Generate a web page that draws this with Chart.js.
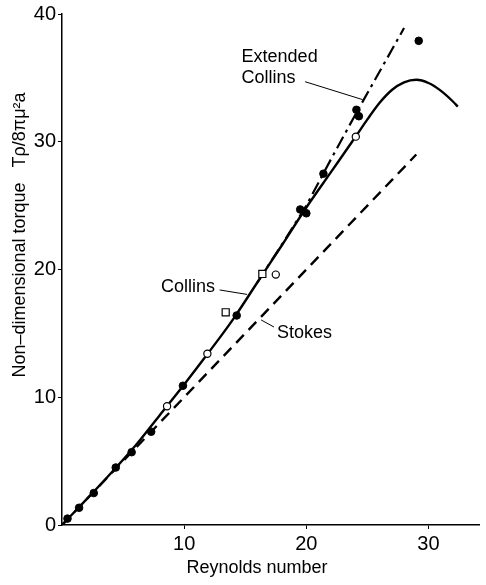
<!DOCTYPE html>
<html>
<head>
<meta charset="utf-8">
<script src="https://cdn.jsdelivr.net/npm/chart.js@4.4.1/dist/chart.umd.min.js"></script>
<style>
    html, body { margin: 0; padding: 0; background: #fff; }
    #wrap { width: 486px; height: 585px; }
</style>
</head>
<body>
<div id="wrap"><canvas id="grafico" width="486" height="585"></canvas></div>
<script>
// fonte tipo Helvetica
const FONTE = '"Liberation Sans", Arial, sans-serif';
const TAM = 18;
const TAM_TICKS = 20;

// ---- dados ----
const collinsRe = [0, 2, 4, 6, 8, 10, 12, 14, 16, 18, 20, 22, 24, 25, 26, 27, 28, 29, 30, 31, 32, 32.4];
const collinsT  = [0, 2.0, 4.05, 6.2, 8.6, 11.0, 13.5, 16.1, 19.0, 21.9, 24.85, 27.6, 30.35, 31.75, 33.05, 34.05, 34.65, 34.85, 34.6, 34.0, 33.15, 32.75];

const extRe = [16, 18, 20, 22, 24, 26, 28];
const extT  = [19.0, 21.95, 25.0, 28.6, 32.1, 35.5, 38.9];

const stokesRe = [0, 29];
const stokesT  = [0, 29];

const cheiosRe = [0.45, 1.4, 2.6, 4.4, 5.7, 7.3, 9.9, 14.3, 19.5, 20.0, 21.4, 24.1, 24.3, 29.2];
const cheiosT  = [0.5, 1.35, 2.5, 4.5, 5.7, 7.3, 10.9, 16.4, 24.7, 24.4, 27.5, 32.5, 32.0, 37.9];

const abertosRe = [8.6, 11.9, 17.5, 24.05];
const abertosT  = [9.3, 13.4, 19.6, 30.4];

const quadradosRe = [13.4, 16.4];
const quadradosT  = [16.65, 19.65];

const ticksY = [0, 10, 20, 30, 40];
const ticksX = [10, 20, 30];

function pares(xs, ys) {
    return xs.map((x, i) => ({ x: x, y: ys[i] }));
}

// rótulos das curvas: texto e ponta da linha guia, em unidades dos eixos
const rotulos = [
    { linhas: ['Extended', 'Collins'], texto: [14.7, 36.65], guia: [19.9, 34.7, 24.6, 33.3] },
    { linhas: ['Collins'], texto: [8.1, 18.6], guia: [12.9, 18.4, 15.15, 18.05] },
    { linhas: ['Stokes'], texto: [17.6, 15.0], guia: [17.35, 15.5, 16.3, 16.05] }
];

const pluginRotulos = {
    id: 'rotulos',
    afterDatasetsDraw(chart) {
        const ctx = chart.ctx;
        const sx = chart.scales.x, sy = chart.scales.y;
        ctx.save();
        ctx.fillStyle = '#000';
        ctx.strokeStyle = '#000';
        ctx.font = TAM + 'px ' + FONTE;
        ctx.textBaseline = 'middle';
        ctx.textAlign = 'left';
        rotulos.forEach(r => {
            const px = sx.getPixelForValue(r.texto[0]);
            const py = sy.getPixelForValue(r.texto[1]);
            r.linhas.forEach((t, i) => ctx.fillText(t, px, py + i * 21));
            ctx.lineWidth = 1;
            ctx.beginPath();
            ctx.moveTo(sx.getPixelForValue(r.guia[0]), sy.getPixelForValue(r.guia[1]));
            ctx.lineTo(sx.getPixelForValue(r.guia[2]), sy.getPixelForValue(r.guia[3]));
            ctx.stroke();
        });

        // títulos dos eixos
        ctx.textAlign = 'center';
        ctx.fillText('Reynolds number', 257, 568);
        ctx.translate(20, 235);
        ctx.rotate(-Math.PI / 2);
        ctx.fillText('Non\u2013dimensional torque   T\u03C1/8\u03C0\u03BC\u00B2a', 0, 0);
        ctx.restore();
    }
};

const ctx = document.getElementById('grafico');
new Chart(ctx, {
    type: 'scatter',
    data: {
        datasets: [
            { data: pares(cheiosRe, cheiosT), pointStyle: 'circle', pointRadius: 3.8, backgroundColor: '#000', borderColor: '#000', borderWidth: 1, order: 0 },
            { data: pares(abertosRe, abertosT), pointStyle: 'circle', pointRadius: 3.6, backgroundColor: '#fff', borderColor: '#000', borderWidth: 1.2, order: 0 },
            { data: pares(quadradosRe, quadradosT), pointStyle: 'rect', pointRadius: 5, backgroundColor: '#fff', borderColor: '#000', borderWidth: 1.2, order: 0 },
            { data: pares(collinsRe, collinsT), showLine: true, pointRadius: 0, borderColor: '#000', borderWidth: 2.4, cubicInterpolationMode: 'monotone', order: 1 },
            { data: pares(extRe, extT), showLine: true, pointRadius: 0, borderColor: '#000', borderWidth: 2.2, borderDash: [13, 5, 3, 5], order: 1 },
            { data: pares(stokesRe, stokesT), showLine: true, pointRadius: 0, borderColor: '#000', borderWidth: 2.4, borderDash: [11, 7], order: 1 }
        ]
    },
    options: {
        responsive: false,
        animation: false,
        devicePixelRatio: 1,
        layout: { padding: { top: 14, right: 0, left: 0, bottom: 0 } },
        plugins: { legend: { display: false }, tooltip: { enabled: false } },
        scales: {
            x: {
                type: 'linear', min: 0, max: 34.2,
                afterBuildTicks: s => { s.ticks = ticksX.map(v => ({ value: v })); },
                afterFit: s => { s.height = 60; },
                border: { color: '#000', width: 1.5 },
                grid: { drawOnChartArea: false, tickLength: 4, color: '#000' },
                ticks: { color: '#000', padding: 3, font: { family: FONTE, size: TAM_TICKS } }
            },
            y: {
                type: 'linear', min: 0, max: 40,
                afterBuildTicks: s => { s.ticks = ticksY.map(v => ({ value: v })); },
                afterFit: s => { s.width = 62; },
                border: { color: '#000', width: 1.5 },
                grid: { drawOnChartArea: false, tickLength: 4, color: '#000' },
                ticks: { color: '#000', padding: 2, font: { family: FONTE, size: TAM_TICKS } }
            }
        }
    },
    plugins: [pluginRotulos]
});
</script>
</body>
</html>
